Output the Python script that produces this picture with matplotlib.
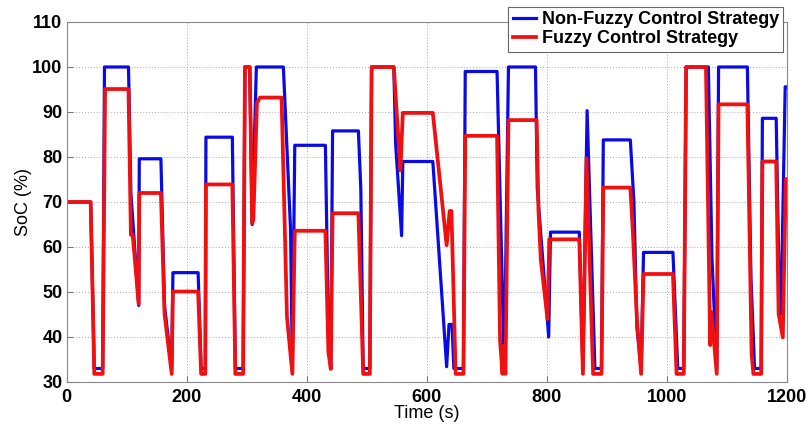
import numpy as np
import matplotlib
matplotlib.use("Agg")
import matplotlib.pyplot as plt

plt.rcParams['font.family'] = ['Liberation Sans', 'DejaVu Sans']

# non-fuzzy control strategy (time s, SoC %)
t_blue = [0, 40, 46, 60, 63, 103, 107, 120, 121, 157, 163, 175, 177, 219, 224, 231,
          232, 276, 281, 294, 297, 305, 309, 316, 361, 373, 376, 380, 431, 436, 440,
          443, 486, 490, 494, 505, 508, 545, 548, 558, 560, 610, 633, 637, 642, 645,
          661, 664, 717, 725, 729, 736, 781, 784, 803, 806, 854, 860, 867, 880, 891,
          894, 939, 945, 950, 957, 961, 1010, 1018, 1028, 1032, 1069, 1075, 1083,
          1086, 1134, 1140, 1146, 1157, 1159, 1182, 1187, 1190, 1197, 1200]
soc_blue = [70, 70, 33, 33, 100, 100, 72, 47, 79.6, 79.6, 47, 33, 54.3, 54.3, 33, 33,
            84.4, 84.4, 33, 33, 100, 100, 65, 100, 100, 63.8, 33, 82.6, 82.6, 42, 33,
            85.8, 85.8, 73, 33, 33, 100, 100, 83, 62.5, 79, 79, 33.4, 42.8, 42.8, 33,
            33, 99, 99, 55, 33, 100, 100, 73, 40, 63.3, 63.3, 33, 90.3, 33, 33,
            83.8, 83.8, 70, 42, 33, 58.8, 58.8, 33, 33, 100, 100, 57.5, 33,
            100, 100, 53, 33, 33, 88.6, 88.6, 51, 45, 95.6, 95.6]

# fuzzy control strategy
t_red = [0, 40, 46, 60, 64, 103, 107, 110, 120, 121, 157, 163, 175, 177, 219, 224,
         231, 232, 276, 281, 294, 297, 305, 309, 311, 317, 322, 358, 367, 376, 380,
         431, 436, 440, 443, 486, 494, 505, 508, 545, 556, 560, 610, 633, 638, 641,
         648, 661, 664, 717, 722, 726, 728, 731, 736, 783, 786, 790, 801, 804, 854,
         860, 866, 877, 891, 894, 939, 943, 950, 957, 961, 1010, 1016, 1028, 1032,
         1065, 1072, 1074, 1083, 1086, 1134, 1141, 1144, 1157, 1159, 1182, 1186,
         1193, 1198, 1200]
soc_red = [70, 70, 31.8, 31.8, 95.1, 95.1, 62.7, 62.7, 47.3, 72, 72, 45.2, 31.8, 50.1,
           50.1, 31.8, 31.8, 73.9, 73.9, 31.8, 31.8, 100, 100, 65.3, 66, 92, 93.2, 93.2,
           44.5, 31.8, 63.6, 63.6, 36.7, 32.9, 67.5, 67.5, 31.8, 31.8, 100, 100, 77,
           89.8, 89.8, 60.4, 68, 68, 31.8, 31.8, 84.7, 84.7, 39.3, 31.8, 38, 31.8,
           88.2, 88.2, 68, 57, 44, 61.7, 61.7, 31.8, 79.7, 31.8, 31.8, 73.2, 73.2, 64,
           44, 31.8, 54, 54, 31.8, 31.8, 100, 100, 38.2, 45.6, 31.8, 91.7, 91.7, 36.4,
           31.8, 31.8, 79, 79, 45.2, 39.9, 75.1, 75.1]

xticks = [0, 200, 400, 600, 800, 1000, 1200]
yticks = [30, 40, 50, 60, 70, 80, 90, 100, 110]

fig = plt.figure(figsize=(8.1, 4.28), dpi=100)
ax = fig.add_axes([0.0823, 0.1075, 0.8893, 0.8411])

ax.plot(t_blue, soc_blue, color='#0a0ae6', lw=2.3, label='Non-Fuzzy Control Strategy')
ax.plot(t_red, soc_red, color='#f01010', lw=2.7, label='Fuzzy Control Strategy')

ax.set_xlim(0, 1200)
ax.set_ylim(30, 110)
ax.set_xticks(xticks)
ax.set_yticks(yticks)
ax.grid(True, linestyle=(0, (1, 2)), color='#aaaaaa', lw=0.7)
ax.tick_params(direction='in', length=4, color='#777777', labelsize=13)
ax.tick_params(axis='x', pad=5)
ax.tick_params(axis='y', pad=3)
for lab in ax.get_xticklabels() + ax.get_yticklabels():
    lab.set_fontweight('bold')
for s in ax.spines.values():
    s.set_color('#888888')

ax.set_xlabel('Time (s)', fontsize=13, labelpad=-1)
ax.set_ylabel('SoC (%)', fontsize=13, labelpad=0)

leg = ax.legend(loc='upper right', bbox_to_anchor=(0.995, 1.042),
                prop={'weight': 'bold', 'size': 13}, fancybox=False, framealpha=1,
                edgecolor='#666666', handlelength=1.3, handletextpad=0.3,
                borderpad=0.25, labelspacing=0.1, borderaxespad=0)
leg.get_frame().set_linewidth(0.8)

fig.savefig('out.png', dpi=100)
